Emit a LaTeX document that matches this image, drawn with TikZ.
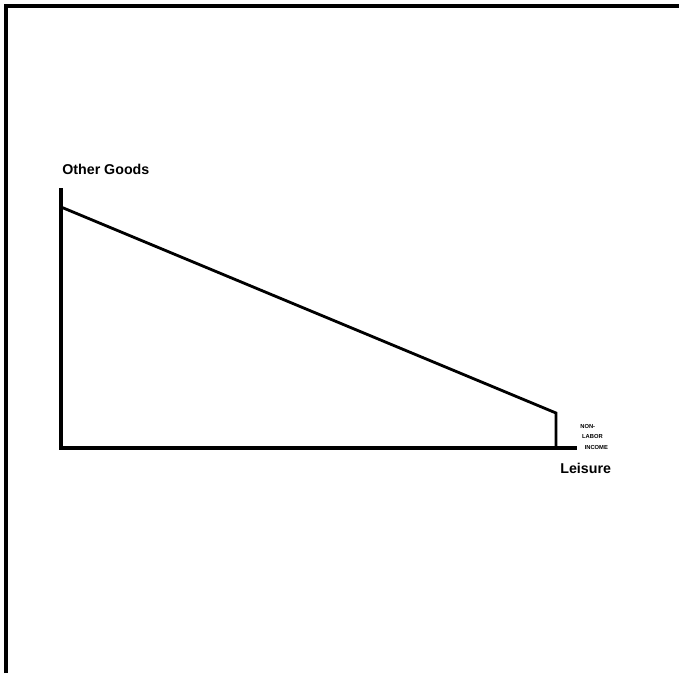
\documentclass[tikz,border=0pt]{standalone}
\usepackage{fontspec}
\setmainfont{Liberation Sans}
\usetikzlibrary{positioning}

\begin{document}
\begin{tikzpicture}[
    x=0.02cm, y=-0.02cm,
    axis/.style={line width=1.75pt, black},
    budget/.style={line width=1.6pt, black},
    frame/.style={line width=1.75pt, black},
    alabel/.style={font=\bfseries\fontsize{8.1}{10}\selectfont, inner sep=0pt},
    tiny/.style={font=\bfseries\fontsize{3.3}{4}\selectfont, inner sep=0pt, anchor=west},
]
\useasboundingbox (0,0) rectangle (679,673);

% ── Frame (top and left only) ──
\draw[frame] (6,673) -- (6,6) -- (679,6);

% ── Axes ──
\coordinate (O) at (61,448);
\coordinate (Ytop) at (61,188);
\coordinate (Xend) at (577,448);
\draw[axis] (Ytop) -- (O) -- (Xend);

% ── Budget line ──
\coordinate (B0) at (61,207);
\coordinate (B1) at (556,413);
\coordinate (B2) at (556,448);
\draw[budget] (B0) -- (B1) -- (B2);

% ── Labels ──
\node[alabel, anchor=south west] (goods) at (62,175) {Other Goods};
\node[alabel, anchor=north west] (leisure) at (560,463) {Leisure};
\node[tiny] (non) at (580,426) {NON-};
\node[tiny, below=3.5pt of non.south west, anchor=north west, xshift=1pt] (labor) {LABOR};
\node[tiny, below=3.5pt of labor.south west, anchor=north west, xshift=1.5pt] (income) {INCOME};

\end{tikzpicture}
\end{document}
